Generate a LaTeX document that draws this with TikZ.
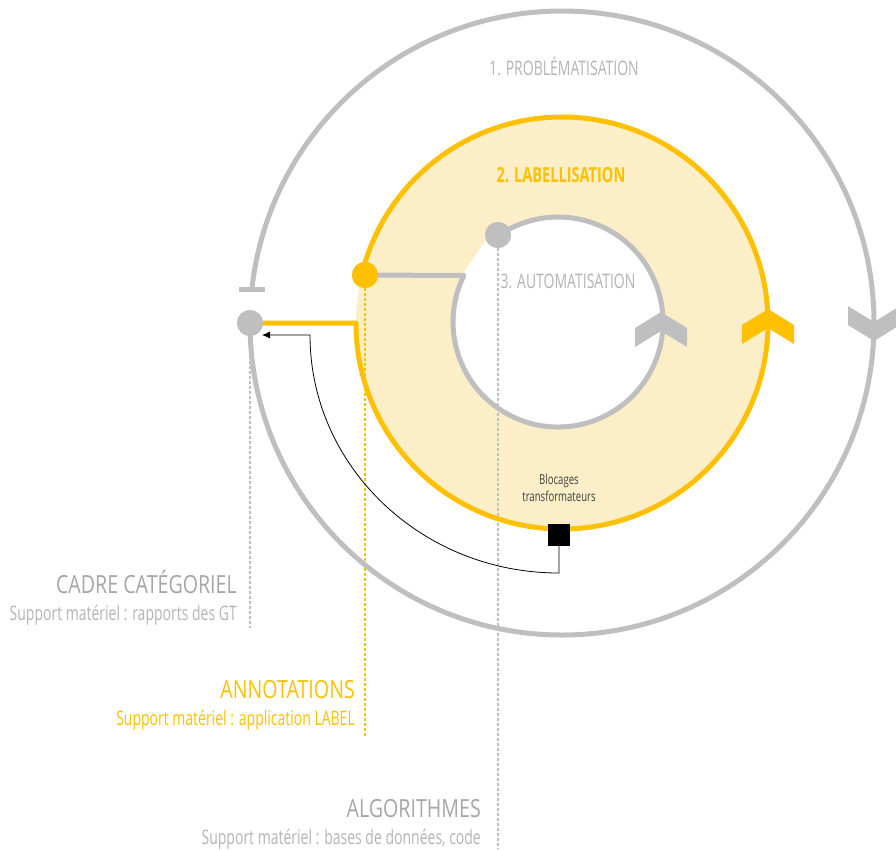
\documentclass[tikz,border=0pt]{standalone}
\usepackage{fontspec}
\setmainfont{Open Sans}[FakeStretch=0.7]
\newfontfamily\captionfont{Open Sans}[FakeStretch=0.785]
\usetikzlibrary{arrows.meta}

\definecolor{gold}{HTML}{FFC000}
\definecolor{paleGold}{HTML}{FCEFC8}
\definecolor{ringGray}{HTML}{BFBFBF}
\definecolor{titleGray}{HTML}{A6A6A6}
\definecolor{noteGray}{HTML}{B4B4B4}

\begin{document}
\begin{tikzpicture}[x=1pt, y=-1pt,
    ring/.style={draw=ringGray, line width=5pt, line join=round},
    goldring/.style={draw=gold, line width=5pt, line join=round},
    guide/.style={line width=1.2pt, dash pattern=on 3pt off 2pt},
    dot/.style={circle, inner sep=0pt, minimum size=26pt},
    stage/.style={anchor=base, text=noteGray, font=\fontsize{20}{23}\selectfont},
    notetitle/.style={anchor=base east, inner sep=0pt, font=\captionfont\fontsize{25}{28}\selectfont},
    notesub/.style={anchor=base east, inner sep=0pt, font=\fontsize{20}{24}\selectfont}]
    \useasboundingbox (0,0) rectangle (896,849);

    % rings: filled band between cycle 2 and cycle 3
    \fill[paleGold] (562,323) circle (206);
    \fill[white] (558,322) circle (105);
    \fill[white] (558,322) -- (463,274) -- (486,240) -- (498,235) -- cycle;

    % start points of the three cycles
    \node[dot, fill=ringGray] (dotA) at (250,323) {};
    \node[dot, fill=gold] (dotB) at (365,275) {};
    \node[dot, fill=ringGray] (dotC) at (498,235) {};
    \coordinate (tipA) at (262,335);

    % guides down to the captions
    \draw[guide, ringGray] (dotA) -- (250,628);
    \draw[guide, gold] (dotB) -- (365,738);
    \draw[guide, ringGray] (dotC) -- (498,849);

    % cycles
    \draw[ring] (dotA.center) arc[start angle=180, end angle=-173.9, radius=312]
      coordinate (barA);
    \draw[ring, line cap=butt] (barA) ++(-13,0) -- ++(26,0);
    \draw[goldring] (dotA.center) -- (356,323)
      arc[start angle=180, end angle=-166.5, radius=206];
    \draw[ring] (dotB.center) -- (463.9,275.5)
      arc[start angle=206.3, end angle=-124.4, radius=105];

    \node[dot, fill=ringGray] at (dotA) {};
    \node[dot, fill=gold] at (dotB) {};
    \node[dot, fill=ringGray] at (dotC) {};

    % chevrons
    \foreach \tx/\ty/\c in {661/312/ringGray, 768/309/gold} {
        \fill[\c] (\tx,\ty) -- ++(26,16) -- ++(0,19) -- ++(-26,-16)
          -- ++(-26,16) -- ++(0,-19) -- cycle;
      }
    \fill[ringGray] (874,341) -- ++(26,-16) -- ++(0,-19) -- ++(-26,16)
      -- ++(-26,-16) -- ++(0,19) -- cycle;

    % blocking point
    \node[fill=black, inner sep=0pt, minimum size=22pt] (blk) at (559,535) {};
    \draw[line width=0.8pt, -{Latex[length=8pt,width=7pt]}] (blk.south) -- (559,573)
      arc[start angle=90, end angle=180, x radius=249, y radius=238] -- (tipA);

    \node[stage] (probl) at (564,75) {1. PROBLÉMATISATION};
    \node[stage, text=gold, font=\fontsize{20.8}{23}\selectfont\bfseries] (label) at (561,182) {2. LABELLISATION};
    \node[stage] (auto) at (568,288) {3. AUTOMATISATION};
    \node[align=center, text=black!75, font=\fontsize{13.7}{17}\selectfont] (blocTxt) at (559,488)
      {Blocages\\transformateurs};

    \node[notetitle, text=titleGray] (cadre) at (237,593) {CADRE CATÉGORIEL};
    \node[notesub, text=noteGray] (cadreSup) at (237,620) {Support matériel : rapports des GT};
    \node[notetitle, text=gold] (annot) at (355,698) {ANNOTATIONS};
    \node[notesub, text=gold] (annotSup) at (355,725) {Support matériel : application LABEL};
    \node[notetitle, text=titleGray] (algo) at (481,817) {ALGORITHMES};
    \node[notesub, text=noteGray] (algoSup) at (481,844) {Support matériel : bases de données, code};
  \end{tikzpicture}
\end{document}
